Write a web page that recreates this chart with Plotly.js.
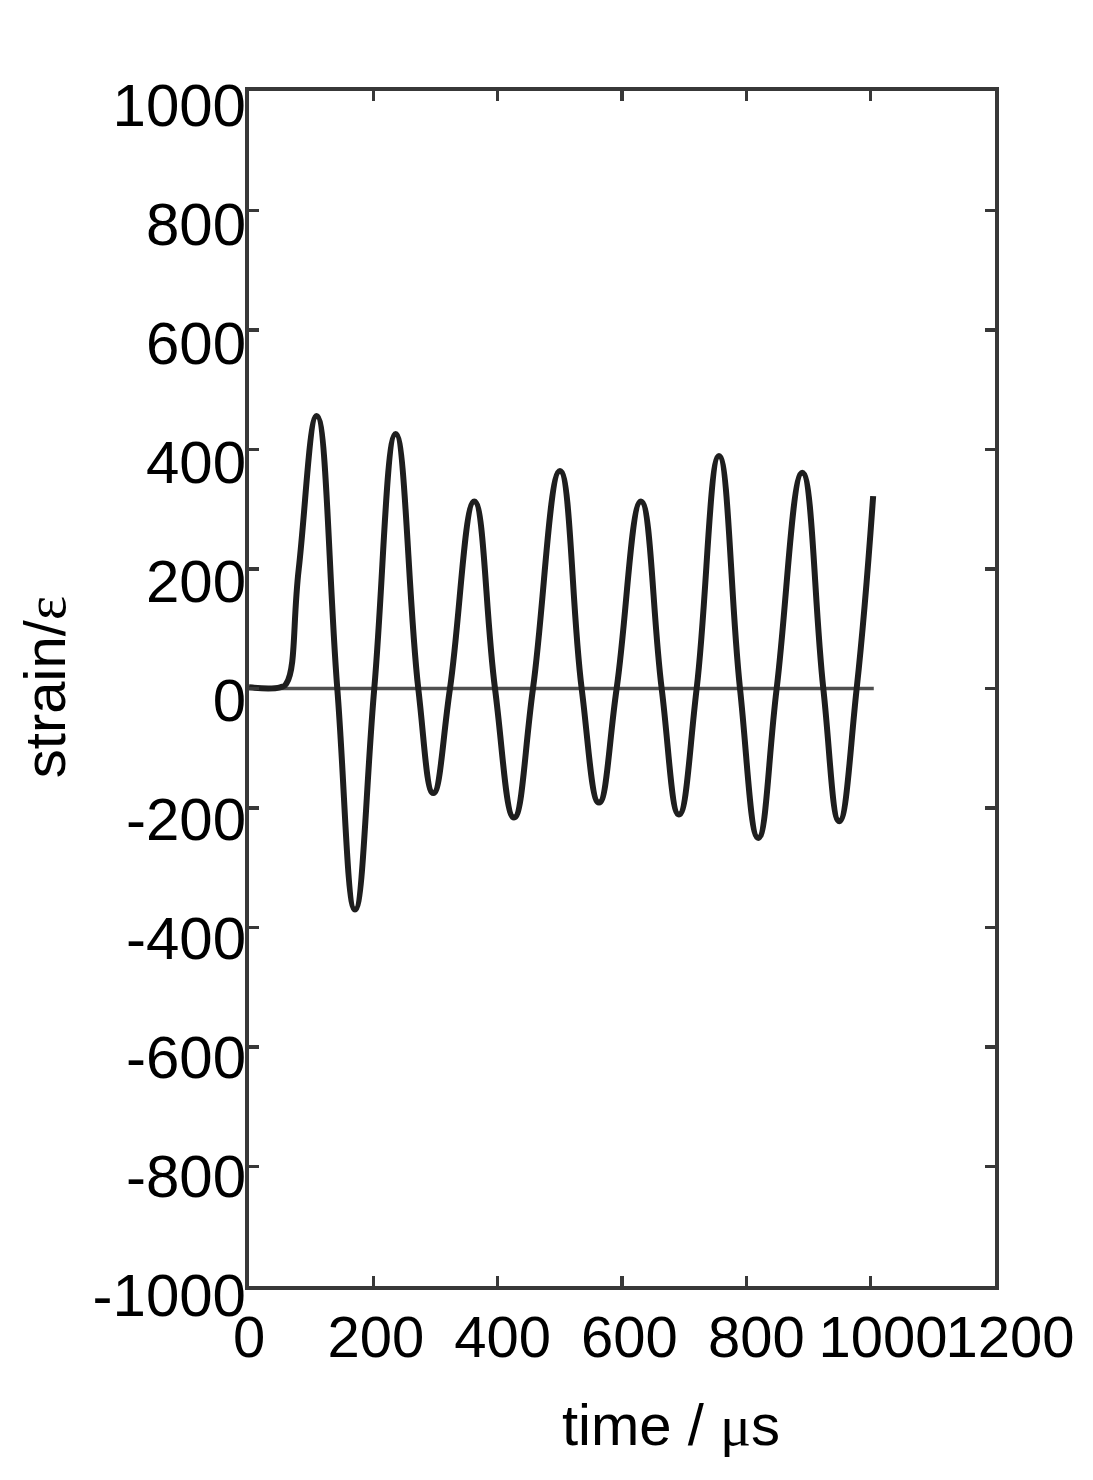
<!DOCTYPE html>
<html><head><meta charset="utf-8">
<script src="https://cdn.plot.ly/plotly-3.0.1.min.js"></script>
<style>html,body{margin:0;padding:0;background:#fff}</style>
</head><body>
<div id="chart" style="width:1093px;height:1480px"></div>
<script>
// strain signal (time in µs, strain): start, peaks, troughs and zero crossings
const time_us = [0, 50, 60, 80, 109, 142, 170.5, 201.5, 236, 272.3, 296.5, 323.3, 362.4, 395.7, 426.3, 456.8, 500.2, 535.1, 563, 591.4, 630.5, 663.8, 691.6, 720.1, 756, 789.8, 819.2, 848.8, 890, 923.8, 949.5, 977.5, 1004];
const strain  = [2, 2, 8, 200, 456, 0, -370, 0, 426, 0, -175, 0, 313, 0, -216, 0, 364, 0, -191, 0, 313, 0, -211, 0, 389, 0, -250, 0, 361, 0, -222, 0, 322];
// horizontal reference line
const baseline_time = [0, 1005];
const baseline_strain = [0, 0];
// ticks
const xTickVals = [0, 200, 400, 600, 800, 1000, 1200];
const xTickText = ['0', '200', '400', '600', '800', '1000', '1200'];
const yTickVals = [-1000, -800, -600, -400, -200, 0, 200, 400, 600, 800, 1000];
const yTickText = ['-1000', '-800', '-600', '-400', '-200', '0', '200', '400', '600', '800', '1000'];

const sans = '"Liberation Sans Narrow", "Arial Narrow", "Liberation Sans", Arial, sans-serif';
const serifSpan = s => '<span style="font-family:\'Liberation Serif\', serif">' + s + '</span>';
const frameColor = '#383838';

const traces = [
  {x: baseline_time, y: baseline_strain, mode: 'lines', line: {color: '#505050', width: 3.5},
   hoverinfo: 'skip', showlegend: false},
  {x: time_us, y: strain, mode: 'lines', line: {color: '#1e1e1e', width: 6, shape: 'spline', smoothing: 1.3},
   showlegend: false},
  {x: [], y: [], xaxis: 'x2', yaxis: 'y', mode: 'lines', hoverinfo: 'skip', showlegend: false},
  {x: [], y: [], xaxis: 'x', yaxis: 'y2', mode: 'lines', hoverinfo: 'skip', showlegend: false}
];

const frameAxis = {
  showline: true, mirror: 'ticks', linecolor: frameColor, linewidth: 4,
  ticks: 'inside', ticklen: 10, tickwidth: 3.5, tickcolor: frameColor,
  showticklabels: false, showgrid: false, zeroline: false, automargin: false
};

const layout = {
  width: 1093, height: 1480,
  margin: {l: 249, r: 0, t: 74, b: 180},
  paper_bgcolor: '#ffffff', plot_bgcolor: 'rgba(0,0,0,0)',
  showlegend: false,
  xaxis: Object.assign({}, frameAxis, {domain: [0, 746 / 844], range: [0, 1200], tickvals: xTickVals}),
  yaxis: Object.assign({}, frameAxis, {domain: [14 / 1226, 1209 / 1226], range: [-1000, 1000], tickvals: yTickVals}),
  xaxis2: {
    domain: [0, 1], range: [0, 1331], anchor: 'y', side: 'bottom',
    tickmode: 'array', tickvals: xTickVals, ticktext: xTickText, tickangle: 0,
    ticks: '', showline: false, showgrid: false, zeroline: false, automargin: false,
    tickfont: {family: sans, size: 58, color: '#000'},
    ticklabelstandoff: 12,
    title: {text: 'time / ' + serifSpan('μ') + 's',
            font: {family: sans, size: 58, color: '#000'}, standoff: 36}
  },
  yaxis2: {
    domain: [0, 1], anchor: 'x', side: 'left', range: [-1008.47, 1052.07],
    tickmode: 'array', tickvals: yTickVals, ticktext: yTickText,
    ticks: '', showline: false, showgrid: false, zeroline: false, automargin: false,
    tickfont: {family: sans, size: 60, color: '#000'},
    ticklabelstandoff: 2,
    title: {text: 'strain/' + serifSpan('ε'),
            font: {family: sans, size: 58, color: '#000'}, standoff: 8}
  }
};

Plotly.newPlot('chart', traces, layout, {staticPlot: true, displayModeBar: false});
</script>
</body></html>
